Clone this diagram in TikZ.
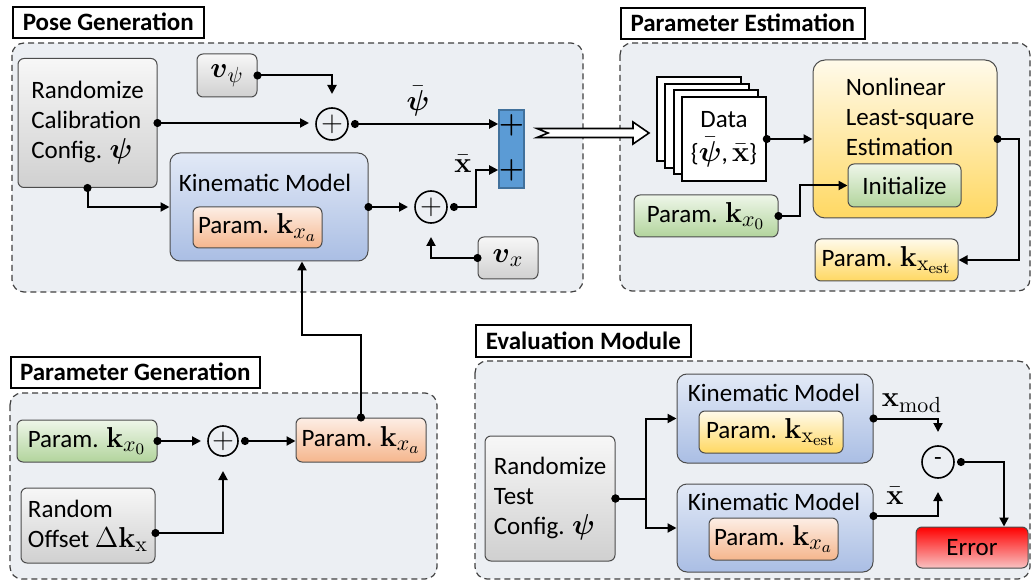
\documentclass[tikz,border=0pt]{standalone}
\usepackage{amsmath, amssymb}
\usepackage[no-math]{fontspec}
\setmainfont{Carlito}
\DeclareMathSizes{12.5}{15}{11}{8.5}
\usepackage{tikz}
\usetikzlibrary{arrows.meta,positioning}

\definecolor{panelfill}{HTML}{ECEFF3}
\definecolor{graytop}{HTML}{F7F7F7}
\definecolor{graybot}{HTML}{D0D0D0}
\definecolor{bluetop}{HTML}{E2E9F6}
\definecolor{bluemid}{HTML}{B6C8E9}
\definecolor{bluebot}{HTML}{AABEE4}
\definecolor{orgtop}{HTML}{FDEEE5}
\definecolor{orgbot}{HTML}{F5B68D}
\definecolor{grntop}{HTML}{EEF6E9}
\definecolor{grnbot}{HTML}{B2D49C}
\definecolor{ylwtop}{HTML}{FFFAEA}
\definecolor{ylwbot}{HTML}{FFD862}
\definecolor{redtop}{HTML}{FF0000}
\definecolor{redbot}{HTML}{F8C2C2}
\definecolor{barblue}{HTML}{5B9BD5}
\definecolor{barline}{HTML}{41719C}

\begin{document}
\begin{tikzpicture}
	[x=0.5pt,y=-0.5pt,
	font=\fontsize{12.5}{15}\selectfont,
	%Styles
	panel/.style={draw=black!75,dash pattern=on 3pt off 2pt,rounded corners=6pt,fill=panelfill,line width=0.6pt},
	heading/.style={draw=black,line width=0.8pt,fill=white,inner sep=0pt,minimum height=15.5pt,anchor=north west,font=\fontsize{12.5}{15}\selectfont\bfseries},
	blk/.style={draw=black!70,line width=0.5pt,rounded corners=3pt,inner sep=0pt,align=center},
	graybox/.style={blk,top color=graytop,bottom color=graybot},
	bluebox/.style={blk,rounded corners=5pt,top color=bluetop,middle color=bluemid,bottom color=bluebot},
	orgbox/.style={blk,top color=orgtop,bottom color=orgbot},
	grnbox/.style={blk,top color=grntop,bottom color=grnbot},
	ylwbox/.style={blk,top color=ylwtop,bottom color=ylwbot},
	summer/.style={circle,draw,line width=0.8pt,minimum size=16pt,inner sep=0pt,outer sep=3.5pt},
	page/.style={draw=black,fill=white,line width=0.8pt},
	link/.style={line width=1pt,shorten <=-2pt,{Circle[length=4pt]}-{Triangle[length=4.5pt,width=4.5pt]}}
	]
	
	%Panels
	\draw[panel] (12,43) rectangle (583,292);
	\draw[panel] (620,43) rectangle (1030,291);
	\draw[panel] (10,393) rectangle (437,579);
	\draw[panel] (475,361) rectangle (1030,579);
	\node[heading,minimum width=95.5pt] (tpose) at (12,6) {Pose Generation};
	\node[heading,minimum width=122pt] (test) at (620,7) {Parameter Estimation};
	\node[heading,minimum width=124.5pt] (tgen) at (10,356) {Parameter Generation};
	\node[heading,minimum width=107.5pt,minimum height=16pt] (teval) at (475,324) {Evaluation Module};
	
	%Pose generation
	\node[graybox,align=left,minimum width=69.5pt,minimum height=64.5pt] (randC) at (87.5,123) {Randomize\\Calibration\\Config. $\boldsymbol{\psi}$};
	\node[graybox,minimum width=30pt,minimum height=21.5pt] (vpsi) at (227,75.5) {$\boldsymbol{v}_{\psi}$};
	\node[bluebox,minimum width=99pt,minimum height=54pt] (kin1) at (269,207) {};
	\node (kin1txt) at (265,183) {Kinematic Model};
	\node[orgbox,minimum width=64.5pt,minimum height=20.5pt] (kxa1) at (257.5,227.5) {Param. $\mathbf{k}_{x_a}$};
	\node[summer] (c1) at (332,124) {$+$};
	\node[summer] (c2) at (431,207) {$+$};
	\node[draw=barline,fill=barblue,line width=0.8pt,inner sep=0pt,minimum width=12.5pt,minimum height=39pt] (bar) at (511.5,149) {};
	\node[inner sep=0pt] (pA) at (511.5,125) {$\boldsymbol{+}$};
	\node[inner sep=0pt] (pB) at (511.5,170) {$\boldsymbol{+}$};
	\node[graybox,minimum width=30pt,minimum height=21pt] (vx) at (508,258) {$\boldsymbol{v}_{x}$};
	\node (lpsi) at (418,101) {$\bar{\boldsymbol{\psi}}$};
	\node (lx1) at (463,164) {$\bar{\mathbf{x}}$};
	
	\draw[link] (randC.east) -- (randC.east -| c1.west);
	\draw[link,shorten >=3.5pt] (vpsi.east) -| (c1.north);
	\draw[link] (c1.east) -- (c1.east -| bar.west);
	\draw[link] (randC.south) |- (kin1.west);
	\draw[link] (kin1.east) -- (c2.west);
	\draw[link] (c2.east) -- ++(22,0) |- (bar.west |- pB);
	\draw[link,shorten >=3.5pt] (vx.west) -| (c2.south);
	
	%Wide arrow
	\draw[page] (537,128.5) -- (633,128.5) -- (633,122) -- (649,133) -- (633,144) -- (633,137.5) -- (537,137.5) -- (548,133) -- cycle;
	
	%Parameter estimation
	\foreach \d/\e in {25/20,17/13,8/7}
		\draw[page] (682-\d,97-\e) rectangle ++(84,84);
	\node[page,minimum width=42pt,minimum height=42pt,inner sep=0pt,align=center] (data) at (724,139) {Data\\[2pt]\{$\bar{\boldsymbol{\psi}}$,\,$\bar{\mathbf{x}}$\}};
	\node[ylwbox,rounded corners=6pt,minimum width=92pt,minimum height=79pt] (nls) at (905,139) {};
	\node[align=left] (nlstxt) at (910,117) {Nonlinear\\Least-square\\Estimation};
	\node[grnbox,minimum width=56.5pt,minimum height=21.5pt] (init) at (904.5,185.5) {Initialize};
	\node[grnbox,minimum width=72pt,minimum height=21pt] (kx0e) at (706,216) {Param. $\mathbf{k}_{x_0}$};
	\node[ylwbox,minimum width=71.5pt,minimum height=21pt] (kxest) at (886.5,260) {Param. $\mathbf{k}_{\mathrm{x}_{\mathrm{est}}}$};
	
	\draw[link] (data.east) -- (nls.west);
	\draw[link] (kx0e.east) -- ++(21,0) |- (init.west);
	\draw[link] (nls.east) -- ++(21,0) |- (kxest.east);
	
	%Parameter generation
	\node[grnbox,minimum width=70pt,minimum height=21pt] (kx0g) at (87,441) {Param. $\mathbf{k}_{x_0}$};
	\node[summer,minimum size=15pt] (c3) at (223,441) {$+$};
	\node[graybox,align=left,minimum width=67pt,minimum height=37.5pt] (ro) at (88,525.5) {Random\\Offset $\Delta\mathbf{k}_{\mathrm{x}}$};
	\node[orgbox,minimum width=65pt,minimum height=22pt] (kxag) at (361,440) {Param. $\mathbf{k}_{x_a}$};
	
	\draw[link] (kx0g.east) -- (c3.west);
	\draw[link] (c3.east) -- (c3.east -| kxag.west);
	\draw[link,shorten >=4pt] ([yshift=-3.75pt]ro.east) -| (c3.south);
	\draw[link] (kxag.north) -- ++(0,-82) -| ([xshift=16.5pt]kin1.south);
	
	%Evaluation
	\node[graybox,align=left,minimum width=65pt,minimum height=62.5pt] (randT) at (550,498.5) {Randomize\\Test\\Config. $\boldsymbol{\psi}$};
	\node[bluebox,minimum width=98pt,minimum height=44.5pt] (km2a) at (775,418.5) {};
	\node (km2atxt) at (774,393) {Kinematic Model};
	\node[ylwbox,minimum width=72pt,minimum height=21pt] (kxest2) at (771,432) {Param. $\mathbf{k}_{\mathrm{x}_{\mathrm{est}}}$};
	\node[bluebox,minimum width=98pt,minimum height=44pt] (km2b) at (775,528) {};
	\node (km2btxt) at (774,502) {Kinematic Model};
	\node[orgbox,minimum width=64.5pt,minimum height=21pt] (kxa2) at (773.5,539) {Param. $\mathbf{k}_{x_a}$};
	\node[summer] (c4) at (938,462) {-};
	\node[blk,top color=redtop,bottom color=redbot,minimum width=56pt,minimum height=20.5pt] (err) at (972,547.5) {Error};
	\node (lxmod) at (912,403) {$\mathbf{x}_{\mathrm{mod}}$};
	\node (lx2) at (895,496) {$\bar{\mathbf{x}}$};
	
	\draw[link] (randT.east) -- ++(30,0) |- (km2a.west);
	\draw[link] (randT.east) -- ++(30,0) |- (km2b.west);
	\draw[link,shorten >=3.5pt] (km2a.east) -| (c4.north);
	\draw[link,shorten >=3.5pt] ([yshift=6pt]km2b.east) -| (c4.south);
	\draw[link] (c4.east) -| ([xshift=16pt]err.north);
	
	\useasboundingbox (0,0) rectangle (1032,582);
\end{tikzpicture}
\end{document}
